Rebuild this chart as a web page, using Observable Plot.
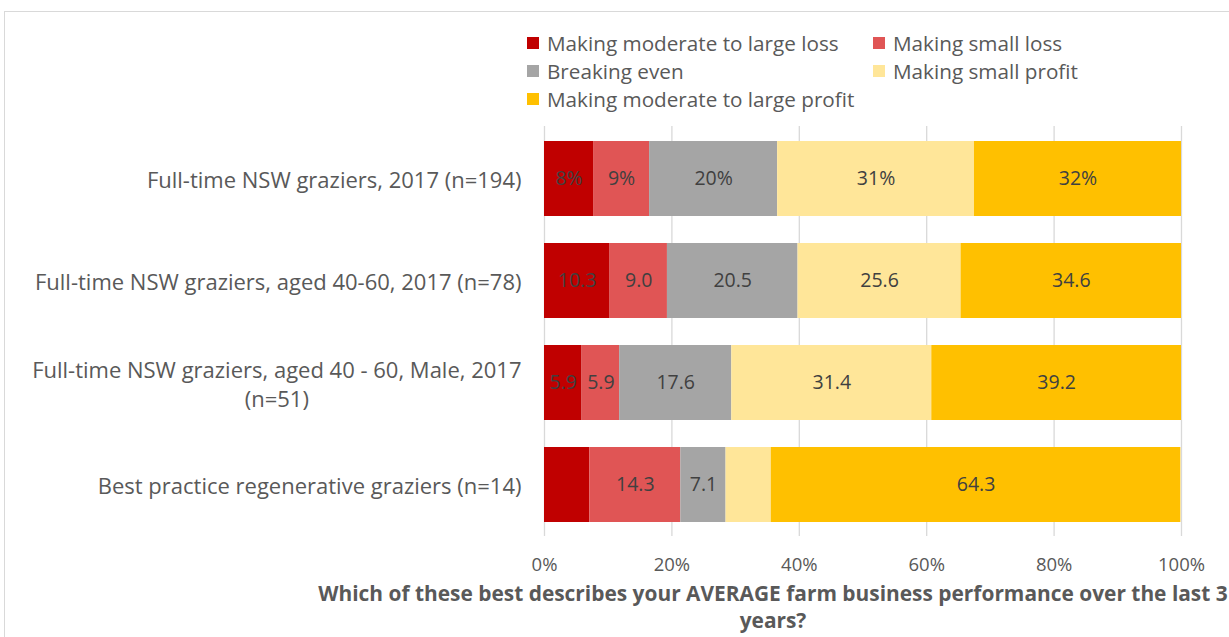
<!DOCTYPE html>
<html><head><meta charset="utf-8">
<script src="https://cdn.jsdelivr.net/npm/d3@7"></script>
<script src="https://cdn.jsdelivr.net/npm/@observablehq/plot@0.6"></script>
<style>
body{margin:0;background:#fff;font-family:"Open Sans","DejaVu Sans",sans-serif;width:1229px;height:637px;overflow:hidden;position:relative;}
#frame{position:absolute;left:4px;top:11px;width:1260px;height:660px;border:1px solid #d9d9d9;box-sizing:border-box;}
#legend{position:absolute;left:527px;top:29px;display:grid;grid-template-columns:346px auto;grid-auto-rows:28px;font-size:20.7px;color:#595959;}
#legend .item{display:flex;align-items:center;white-space:nowrap;}
#legend .sw{width:12px;height:12px;margin-right:8px;flex:none;}
#chart{position:absolute;left:0;top:115px;}
#xtitle{position:absolute;left:248px;top:580px;width:1050px;text-align:center;font-weight:bold;font-size:20.9px;line-height:27px;color:#595959;white-space:pre-line;}
</style></head>
<body>
<div id="frame"></div>
<div id="legend"></div>
<div id="chart"></div>
<div id="xtitle"></div>
<script>
const categories = [
  "Full-time NSW graziers, 2017 (n=194)",
  "Full-time NSW graziers, aged 40-60, 2017 (n=78)",
  "Full-time NSW graziers, aged 40 - 60, Male, 2017\n(n=51)",
  "Best practice regenerative graziers (n=14)"
];
const series = ["Making moderate to large loss","Making small loss","Breaking even","Making small profit","Making moderate to large profit"];
const colors = ["#C00000","#E05555","#A5A5A5","#FFE699","#FFC000"];
const values = [
  [7.7, 8.8, 20.1, 30.9, 32.5],
  [10.3, 9.0, 20.5, 25.6, 34.6],
  [5.9, 5.9, 17.6, 31.4, 39.2],
  [7.1, 14.3, 7.1, 7.1, 64.3]
];
const labels = [
  ["8%","9%","20%","31%","32%"],
  ["10.3","9.0","20.5","25.6","34.6"],
  ["5.9","5.9","17.6","31.4","39.2"],
  ["","14.3","7.1","","64.3"]
];
const xTicks = [0, 0.2, 0.4, 0.6, 0.8, 1];
const xTitle = "Which of these best describes your AVERAGE farm business performance over the last 3\nyears?";

const data = [];
categories.forEach((c, i) => series.forEach((s, j) => data.push({cat: c, series: s, value: values[i][j] / 100, label: labels[i][j]})));

const legend = document.getElementById("legend");
series.forEach((s, j) => {
  const d = document.createElement("div"); d.className = "item";
  d.innerHTML = `<span class="sw" style="background:${colors[j]}"></span>${s}`;
  legend.appendChild(d);
});
document.getElementById("xtitle").textContent = xTitle;

const chart = Plot.plot({
  width: 1229, height: 465,
  marginLeft: 544, marginRight: 48, marginTop: 11, marginBottom: 44,
  style: {fontFamily: "'Open Sans', sans-serif", background: "transparent"},
  x: {domain: [0, 1], ticks: xTicks, tickFormat: d3.format(".0%")},
  y: {domain: categories, paddingInner: 0.265, paddingOuter: 0.1325, label: null},
  color: {domain: series, range: colors},
  marks: [
    Plot.gridX(xTicks, {stroke: "#d9d9d9", strokeOpacity: 1, strokeWidth: 1.3}),
    Plot.barX(data, Plot.stackX({x: "value", y: "cat", fill: "series", order: null})),
    Plot.text(data, Plot.stackX({x: "value", y: "cat", z: "series", text: "label", order: null, fill: "#404040", fontSize: 19.5})),
    Plot.axisX(xTicks, {tickSize: 0, tickPadding: 21, fontSize: 18.5, color: "#595959", label: null, tickFormat: d3.format(".0%")}),
    Plot.axisY({tickSize: 0, tickPadding: 23, fontSize: 22, color: "#595959", label: null, lineHeight: 1.32})
  ]
});
document.getElementById("chart").appendChild(chart);

// center the wrapped second line of multi-line y labels under the first line (as in the reference)
chart.querySelectorAll('g[aria-label="y-axis tick label"] text').forEach(t => {
  const spans = t.querySelectorAll("tspan");
  if (spans.length > 1) {
    const w = spans[0].getComputedTextLength();
    spans.forEach((s, k) => { if (k > 0) { s.setAttribute("text-anchor", "middle"); s.setAttribute("x", -w / 2); } });
  }
});
</script>
</body></html>
